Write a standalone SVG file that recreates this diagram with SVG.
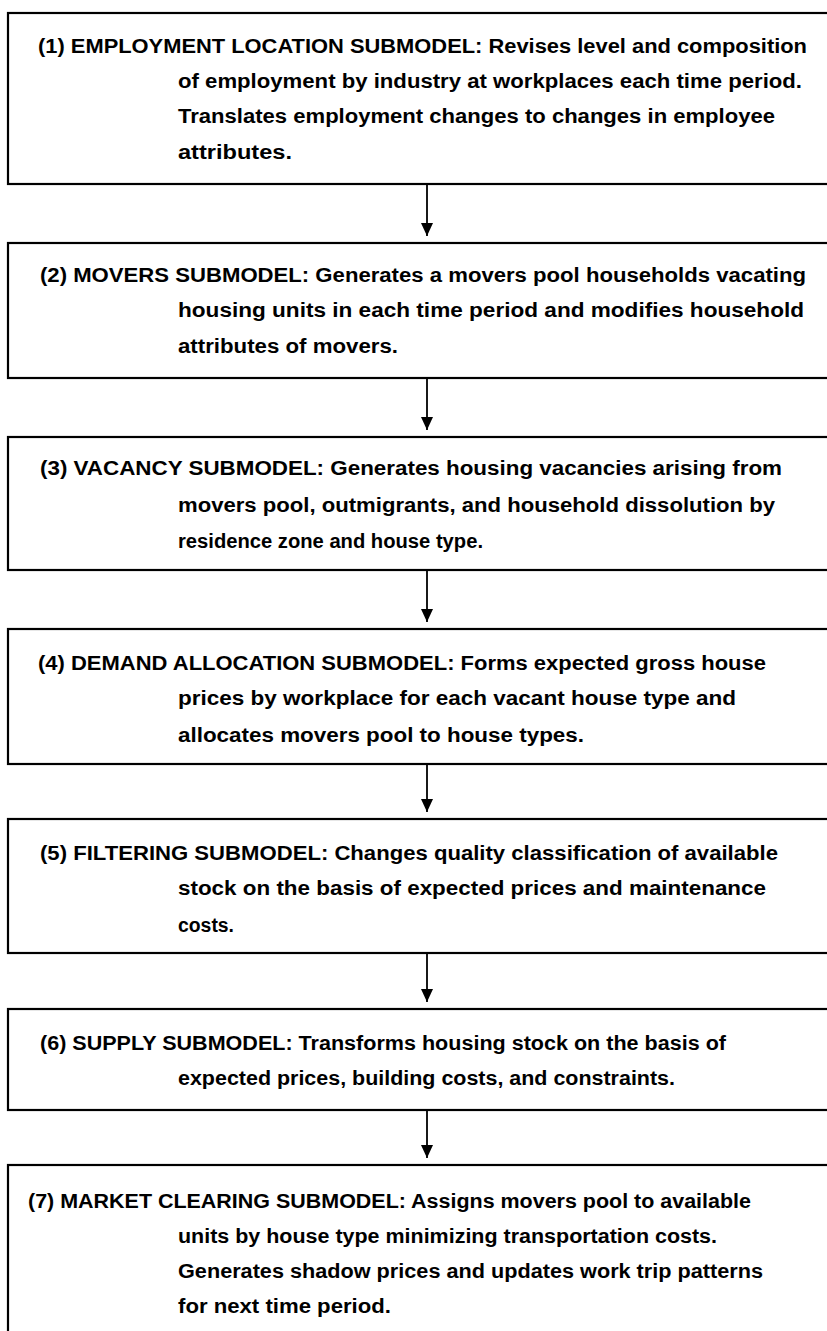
<svg xmlns="http://www.w3.org/2000/svg" width="827" height="1331" viewBox="0 0 827 1331">
<style>
.box{fill:#fff;stroke:#000;stroke-width:2.2}
.t{font-family:"Liberation Sans",Arial,sans-serif;font-weight:bold;font-size:19.5px;fill:#000}
.c{stroke:#000;stroke-width:1.8;fill:none;marker-end:url(#ah)}
</style>
<defs>
<marker id="ah" viewBox="0 0 13 12" refX="13" refY="6" markerWidth="13" markerHeight="12" markerUnits="userSpaceOnUse" orient="auto">
<path d="M0,0 L13,6 L0,12 Z" fill="#000"/>
</marker>
</defs>
<rect width="827" height="1331" fill="#fff"/>
<g id="connectors">
<path class="c" d="M427,184 V236"/>
<path class="c" d="M427,378 V430"/>
<path class="c" d="M427,570 V622"/>
<path class="c" d="M427,764 V812"/>
<path class="c" d="M427,953 V1002"/>
<path class="c" d="M427,1110 V1158"/>
</g>
<g id="node1">
<rect class="box" x="8" y="13" width="840" height="171"/>
<text class="t" x="38" y="53" textLength="769" lengthAdjust="spacingAndGlyphs">(1) EMPLOYMENT LOCATION SUBMODEL: Revises level and composition</text>
<text class="t" x="178" y="88" textLength="624" lengthAdjust="spacingAndGlyphs">of employment by industry at workplaces each time period.</text>
<text class="t" x="178" y="123" textLength="597" lengthAdjust="spacingAndGlyphs">Translates employment changes to changes in employee</text>
<text class="t" x="178" y="159" textLength="114" lengthAdjust="spacingAndGlyphs">attributes.</text>
</g>
<g id="node2">
<rect class="box" x="8" y="243" width="840" height="135"/>
<text class="t" x="40" y="282" textLength="766" lengthAdjust="spacingAndGlyphs">(2) MOVERS SUBMODEL: Generates a movers pool households vacating</text>
<text class="t" x="178" y="317" textLength="626" lengthAdjust="spacingAndGlyphs">housing units in each time period and modifies household</text>
<text class="t" x="178" y="353" textLength="220" lengthAdjust="spacingAndGlyphs">attributes of movers.</text>
</g>
<g id="node3">
<rect class="box" x="8" y="437" width="840" height="133"/>
<text class="t" x="40" y="475" textLength="742" lengthAdjust="spacingAndGlyphs">(3) VACANCY SUBMODEL: Generates housing vacancies arising from</text>
<text class="t" x="178" y="512" textLength="597" lengthAdjust="spacingAndGlyphs">movers pool, outmigrants, and household dissolution by</text>
<text class="t" x="178" y="548" textLength="305" lengthAdjust="spacingAndGlyphs">residence zone and house type.</text>
</g>
<g id="node4">
<rect class="box" x="8" y="629" width="840" height="135"/>
<text class="t" x="38" y="670" textLength="728" lengthAdjust="spacingAndGlyphs">(4) DEMAND ALLOCATION SUBMODEL: Forms expected gross house</text>
<text class="t" x="178" y="705" textLength="558" lengthAdjust="spacingAndGlyphs">prices by workplace for each vacant house type and</text>
<text class="t" x="178" y="742" textLength="406" lengthAdjust="spacingAndGlyphs">allocates movers pool to house types.</text>
</g>
<g id="node5">
<rect class="box" x="8" y="819" width="840" height="134"/>
<text class="t" x="40" y="860" textLength="738" lengthAdjust="spacingAndGlyphs">(5) FILTERING SUBMODEL: Changes quality classification of available</text>
<text class="t" x="178" y="895" textLength="588" lengthAdjust="spacingAndGlyphs">stock on the basis of expected prices and maintenance</text>
<text class="t" x="178" y="932" textLength="56" lengthAdjust="spacingAndGlyphs">costs.</text>
</g>
<g id="node6">
<rect class="box" x="8" y="1009" width="840" height="101"/>
<text class="t" x="40" y="1050" textLength="686" lengthAdjust="spacingAndGlyphs">(6) SUPPLY SUBMODEL: Transforms housing stock on the basis of</text>
<text class="t" x="178" y="1085" textLength="497" lengthAdjust="spacingAndGlyphs">expected prices, building costs, and constraints.</text>
</g>
<g id="node7">
<rect class="box" x="8" y="1165" width="840" height="200"/>
<text class="t" x="28" y="1208" textLength="723" lengthAdjust="spacingAndGlyphs">(7) MARKET CLEARING SUBMODEL: Assigns movers pool to available</text>
<text class="t" x="178" y="1243" textLength="539" lengthAdjust="spacingAndGlyphs">units by house type minimizing transportation costs.</text>
<text class="t" x="178" y="1278" textLength="585" lengthAdjust="spacingAndGlyphs">Generates shadow prices and updates work trip patterns</text>
<text class="t" x="178" y="1313" textLength="213" lengthAdjust="spacingAndGlyphs">for next time period.</text>
</g>
</svg>
